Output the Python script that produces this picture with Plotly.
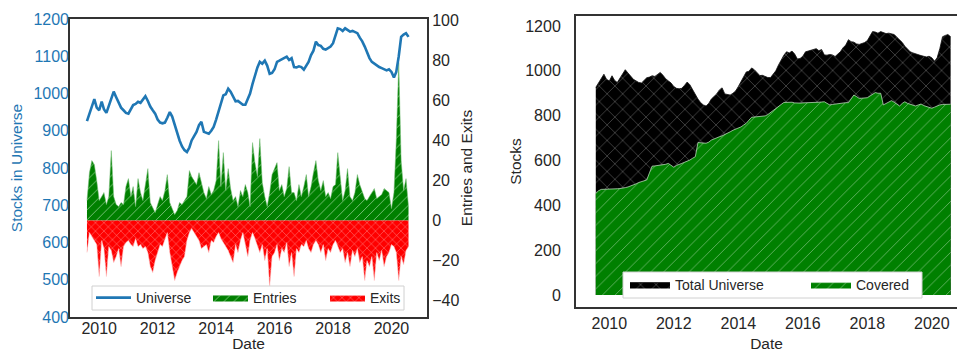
import pandas as pd
import plotly.graph_objects as go

# ---------------- data (monthly, Aug 2009 .. Aug 2020) ----------------
start_month = "2009-08-01"

universe = [
    926, 945, 968, 985, 962,
    955, 978, 958, 948, 968, 990, 1005, 990, 975, 962, 955, 948,
    946, 958, 969, 972, 978, 975, 985, 993, 980, 965, 955, 946,
    930, 922, 920, 922, 935, 950, 938, 915, 895, 874, 858, 848,
    843, 855, 874, 885, 897, 915, 924, 897, 895, 892, 900, 910,
    930, 951, 975, 995, 998, 1013, 1005, 990, 979, 980, 975, 970,
    970, 985, 1000, 1026, 1050, 1070, 1085, 1080, 1088, 1075, 1053, 1055,
    1065, 1085, 1088, 1092, 1095, 1099, 1090, 1095, 1071, 1070, 1073, 1071,
    1064, 1075, 1085, 1103, 1115, 1139, 1130, 1128, 1120, 1118, 1122, 1126,
    1135, 1160, 1175, 1173, 1168, 1175, 1171, 1166, 1168, 1164, 1162, 1150,
    1140, 1126, 1110, 1095, 1085, 1080, 1075, 1071, 1068, 1065, 1062, 1065,
    1058, 1043, 1058, 1100, 1152, 1158, 1162, 1152,
]

covered = [
    453, 465, 471, 471, 472,
    472, 473, 474, 474, 475, 476, 479, 482, 486, 491, 496, 502,
    506, 510, 513, 545, 575, 576, 577, 578, 580, 583, 587, 580,
    570, 578, 584, 587, 592, 596, 602, 610, 617, 680, 678, 677,
    677, 682, 691, 696, 702, 706, 710, 715, 721, 728, 735, 740,
    743, 750, 758, 766, 780, 793, 794, 795, 796, 797, 799, 805,
    815, 825, 833, 842, 850, 859, 860, 862, 860, 857, 855, 856,
    857, 857, 858, 858, 859, 860, 860, 861, 862, 855, 848, 850,
    852, 855, 856, 857, 858, 858, 875, 892, 885, 877, 878, 879,
    880, 888, 895, 903, 900, 900, 848, 855, 862, 867, 860, 852,
    843, 855, 862, 855, 850, 845, 843, 848, 852, 845, 840, 835,
    833, 838, 844, 848, 850, 851, 851, 851,
]

entries = [
    10, 24, 30, 28, 20,
    10, 12, 14, 8, 12, 35, 12, 8, 7, 9, 8, 17,
    21, 12, 17, 7, 21, 14, 10, 18, 26, 9, 6, 4,
    8, 12, 10, 15, 23, 9, 6, 3, 5, 9, 8, 10,
    12, 25, 22, 20, 18, 24, 19, 14, 11, 17, 13, 15,
    20, 40, 17, 34, 15, 26, 16, 10, 12, 7, 15, 12,
    18, 14, 7, 39, 29, 22, 41, 19, 12, 7, 14, 23,
    26, 29, 15, 18, 12, 16, 27, 14, 14, 10, 18, 12,
    17, 23, 12, 17, 24, 30, 20, 15, 20, 12, 14, 11,
    17, 18, 34, 20, 10, 15, 26, 12, 10, 14, 23, 18,
    14, 11, 10, 12, 14, 16, 11, 12, 13, 16, 15, 14,
    6, 14, 40, 79, 30, 15, 21, 7,
]

exits = [
    -16, -6, -8, -10, -12,
    -28, -10, -14, -28, -13, -15, -21, -18, -14, -23, -13, -11,
    -10, -12, -13, -9, -13, -12, -14, -13, -16, -23, -26, -20,
    -16, -12, -13, -9, -6, -16, -22, -30, -26, -23, -20, -18,
    -10, -6, -4, -6, -8, -10, -14, -13, -12, -16, -10, -11,
    -8, -6, -9, -11, -13, -15, -18, -21, -12, -16, -10, -6,
    -12, -18, -10, -6, -9, -13, -16, -12, -20, -14, -33, -18,
    -16, -12, -20, -14, -16, -11, -23, -16, -28, -14, -16, -12,
    -13, -10, -14, -16, -12, -10, -12, -16, -12, -20, -14, -16,
    -12, -10, -13, -16, -14, -21, -16, -23, -15, -18, -14, -21,
    -18, -30, -20, -23, -18, -30, -16, -20, -15, -23, -18, -16,
    -12, -13, -16, -30, -18, -22, -15, -13,
]

tick_years = [2010, 2012, 2014, 2016, 2018, 2020]
left_ticks = [400, 500, 600, 700, 800, 900, 1000, 1100, 1200]
flow_ticks = [-40, -20, 0, 20, 40, 60, 80, 100]
stock_ticks = [0, 200, 400, 600, 800, 1000, 1200]

dates = pd.date_range(start_month, periods=len(universe), freq="MS")

# ---------------- styling ----------------
FONT = "Liberation Sans, Arial, sans-serif"
TXT = "#262626"
BLUE = "#1f77b4"
FRAME = "#333333"

fig = go.Figure()

# left panel: entries / exits on primary y (right side), universe line on y2 (left side)
fig.add_trace(go.Scatter(
    x=dates, y=entries, name="Entries", mode="lines",
    line=dict(color="rgba(120,190,120,0.9)", width=0.6),
    fill="tozeroy", fillcolor="#008000",
    fillpattern=dict(shape="/", bgcolor="#008000", fgcolor="rgba(150,210,150,0.9)",
                     size=7, solidity=0.12, fillmode="replace"),
    xaxis="x", yaxis="y", legend="legend", legendrank=2,
))
fig.add_trace(go.Scatter(
    x=dates, y=exits, name="Exits", mode="lines",
    line=dict(color="rgba(255,190,190,0.9)", width=0.6),
    fill="tozeroy", fillcolor="#ff0000",
    fillpattern=dict(shape="x", bgcolor="#ff0000", fgcolor="rgba(255,200,200,0.9)",
                     size=6, solidity=0.12, fillmode="replace"),
    xaxis="x", yaxis="y", legend="legend", legendrank=3,
))
fig.add_trace(go.Scatter(
    x=dates, y=universe, name="Universe", mode="lines",
    line=dict(color=BLUE, width=2.6),
    xaxis="x", yaxis="y2", legend="legend", legendrank=1,
))

# right panel
fig.add_trace(go.Scatter(
    x=dates, y=universe, name="Total Universe", mode="lines",
    line=dict(color="#111111", width=0.8),
    fill="tozeroy", fillcolor="#000000",
    fillpattern=dict(shape="x", bgcolor="#000000", fgcolor="rgba(150,150,150,0.9)",
                     size=11, solidity=0.08, fillmode="replace"),
    xaxis="x2", yaxis="y3", legend="legend2",
))
fig.add_trace(go.Scatter(
    x=dates, y=covered, name="Covered", mode="lines",
    line=dict(color="rgba(200,230,200,0.9)", width=0.8),
    fill="tozeroy", fillcolor="#008000",
    fillpattern=dict(shape="/", bgcolor="#008000", fgcolor="rgba(140,200,140,0.9)",
                     size=9, solidity=0.08, fillmode="replace"),
    xaxis="x2", yaxis="y3", legend="legend2",
))

W, H = 957, 352
def px(x): return x / W
def py(y): return 1 - y / H

tickvals = [f"{y}-01-01" for y in tick_years]
ticktext = [str(y) for y in tick_years]

def fmt_minus(v):
    return str(v).replace("-", "\u2212")

def xax(domain, rng, anchor, lab_pad, title_pad):
    return dict(type="date", domain=domain, range=rng, anchor=anchor,
                tickvals=tickvals, ticktext=ticktext, automargin=False,
                showgrid=False, zeroline=False, showline=True, mirror=True,
                linecolor=FRAME, linewidth=2, ticks="", ticklabelstandoff=lab_pad,
                tickfont=dict(size=16, color=TXT, family=FONT),
                title=dict(text="Date", font=dict(size=15.5, color=TXT, family=FONT),
                           standoff=title_pad))

fig.update_layout(
    width=W, height=H,
    margin=dict(l=0, r=0, t=0, b=0, autoexpand=False),
    paper_bgcolor="white", plot_bgcolor="white",
    font=dict(family=FONT, color=TXT),
    xaxis=xax([px(70), px(427)], ["2009-01-01", "2021-03-20"], "y", -4, 6),
    yaxis=dict(domain=[py(317), py(19)], range=[-48.2, 100.8], side="right", anchor="x",
               automargin=False,
               tickvals=flow_ticks, ticktext=[fmt_minus(v) for v in flow_ticks],
               showgrid=False, zeroline=False, showline=True, mirror=True,
               linecolor=FRAME, linewidth=2, ticks="",
               tickfont=dict(size=16, color=TXT, family=FONT),
               title=dict(text="Entries and Exits", font=dict(size=15.5, color=TXT, family=FONT), standoff=3)),
    yaxis2=dict(overlaying="y", side="left", range=[400, 1200], anchor="x", automargin=False,
                tickvals=left_ticks, showgrid=False, zeroline=False, showline=False, ticks="",
                tickfont=dict(size=16, color=BLUE, family=FONT),
                title=dict(text="Stocks in Universe", font=dict(size=15.5, color=BLUE, family=FONT), standoff=6)),
    xaxis2=xax([px(576), 1.0], ["2008-12-20", "2020-10-12"], "y3", 1, 7),
    yaxis3=dict(domain=[py(307), py(16)], range=[-53.5, 1244.6], anchor="x2", automargin=False,
                tickvals=stock_ticks, showgrid=False, zeroline=False,
                showline=True, mirror=False, linecolor=FRAME, linewidth=2, ticks="",
                ticklabelstandoff=10,
                tickfont=dict(size=16, color=TXT, family=FONT),
                title=dict(text="Stocks", font=dict(size=15.5, color=TXT, family=FONT), standoff=0)),
    legend=dict(orientation="h", x=px(91), y=py(298), xanchor="left", yanchor="middle",
                bgcolor="rgba(0,0,0,0)", borderwidth=0,
                font=dict(size=14, color=TXT, family=FONT),
                entrywidth=67, itemwidth=35, traceorder="normal"),
    legend2=dict(orientation="h", x=px(625), y=py(285), xanchor="left", yanchor="middle",
                 bgcolor="rgba(0,0,0,0)", borderwidth=0,
                 font=dict(size=14, color=TXT, family=FONT),
                 entrywidth=126, itemwidth=40),
    showlegend=True,
    shapes=[
        dict(type="rect", xref="paper", yref="paper", layer="above",
             x0=px(92), x1=px(404), y0=py(310), y1=py(286),
             fillcolor="white", line=dict(color="#d0d0d0", width=1)),
        dict(type="rect", xref="paper", yref="paper", layer="above",
             x0=px(623), x1=px(922), y0=py(298), y1=py(272),
             fillcolor="white", line=dict(color="#d0d0d0", width=1)),
    ],
)

fig.write_html(
    "out.html",
    config={"displayModeBar": False},
    post_script="document.body.style.margin='0';document.body.style.overflow='hidden';",
)
